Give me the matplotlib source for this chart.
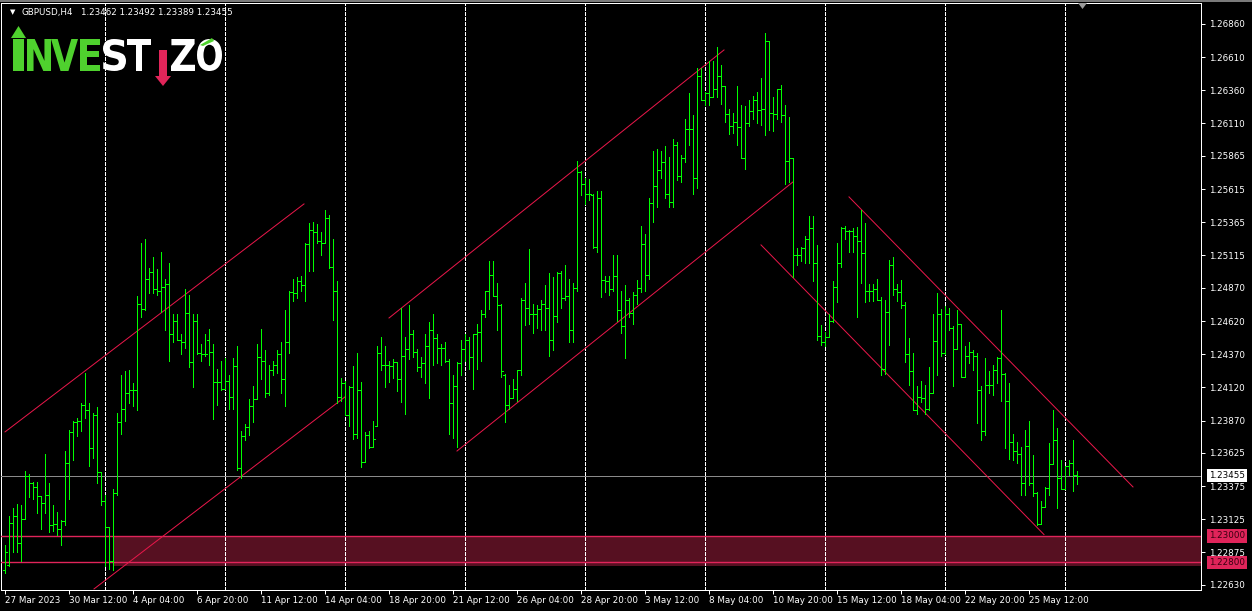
import matplotlib
matplotlib.use("Agg")
import matplotlib.pyplot as plt
from matplotlib.collections import LineCollection
from matplotlib.patches import Rectangle, Polygon, PathPatch
from matplotlib.textpath import TextPath
from matplotlib.font_manager import FontProperties
from matplotlib.transforms import Affine2D, blended_transform_factory

W, H = 1252, 611

# ---- GBPUSD H4 bars ----
opens = [
    1.2274, 1.2278, 1.2310, 1.2315, 1.2295, 1.2313, 1.2345, 1.2340, 1.2337, 1.2330,
    1.2325, 1.2331, 1.2308, 1.2309, 1.2305, 1.2311, 1.2355, 1.2378, 1.2386, 1.2387,
    1.2399, 1.2395, 1.2366, 1.2391, 1.2348, 1.2326, 1.2307, 1.2281, 1.2332, 1.2386,
    1.2396, 1.2408, 1.2410, 1.2410, 1.2475, 1.2471, 1.2494, 1.2499, 1.2486, 1.2485,
    1.2488, 1.2490, 1.2452, 1.2462, 1.2448, 1.2446, 1.2468, 1.2431, 1.2462, 1.2438,
    1.2437, 1.2448, 1.2439, 1.2416, 1.2416, 1.2411, 1.2417, 1.2405, 1.2428, 1.2351,
    1.2375, 1.2382, 1.2398, 1.2403, 1.2435, 1.2432, 1.2408, 1.2425, 1.2429, 1.2437,
    1.2418, 1.2446, 1.2484, 1.2483, 1.2492, 1.2489, 1.2520, 1.2531, 1.2529, 1.2522,
    1.2521, 1.2540, 1.2503, 1.2485, 1.2405, 1.2415, 1.2391, 1.2412, 1.2377, 1.2410,
    1.2356, 1.2376, 1.2367, 1.2383, 1.2438, 1.2429, 1.2429, 1.2428, 1.2431, 1.2418,
    1.2436, 1.2441, 1.2452, 1.2439, 1.2427, 1.2430, 1.2443, 1.2455, 1.2449, 1.2442,
    1.2442, 1.2432, 1.2400, 1.2413, 1.2430, 1.2441, 1.2448, 1.2435, 1.2452, 1.2454,
    1.2467, 1.2485, 1.2497, 1.2481, 1.2474, 1.2421, 1.2399, 1.2404, 1.2411, 1.2425,
    1.2478, 1.2472, 1.2467, 1.2467, 1.2471, 1.2475, 1.2472, 1.2448, 1.2466, 1.2498,
    1.2479, 1.2481, 1.2455, 1.2487, 1.2574, 1.2565, 1.2558, 1.2557, 1.2518, 1.2555,
    1.2493, 1.2492, 1.2486, 1.2496, 1.2470, 1.2458, 1.2478, 1.2468, 1.2482, 1.2487,
    1.2520, 1.2497, 1.2551, 1.2564, 1.2576, 1.2582, 1.2558, 1.2552, 1.2595, 1.2571,
    1.2585, 1.2607, 1.2607, 1.2570, 1.2647, 1.2629, 1.2634, 1.2631, 1.2637, 1.2647,
    1.2639, 1.2618, 1.2609, 1.2612, 1.2608, 1.2585, 1.2611, 1.2620, 1.2629, 1.2621,
    1.2622, 1.2673, 1.2619, 1.2618, 1.2637, 1.2617, 1.2583, 1.2585, 1.2512, 1.2512,
    1.2517, 1.2524, 1.2532, 1.2506, 1.2451, 1.2446, 1.2450, 1.2462, 1.2488, 1.2506,
    1.2532, 1.2530, 1.2530, 1.2526, 1.2522, 1.2513, 1.2485, 1.2485, 1.2486, 1.2478,
    1.2426, 1.2469, 1.2504, 1.2486, 1.2484, 1.2474, 1.2437, 1.2424, 1.2395, 1.2405,
    1.2404, 1.2396, 1.2408, 1.2447, 1.2467, 1.2438, 1.2467, 1.2457, 1.2441, 1.2460,
    1.2420, 1.2436, 1.2439, 1.2436, 1.2410, 1.2379, 1.2414, 1.2414, 1.2425, 1.2434,
    1.2422, 1.2402, 1.2371, 1.2364, 1.2362, 1.2340, 1.2368, 1.2340, 1.2332, 1.2309,
    1.2322, 1.2336, 1.2354, 1.2372, 1.2344, 1.2335, 1.2353, 1.2355, 1.23462,
]
highs = [
    1.2293, 1.2315, 1.2321, 1.2324, 1.2323, 1.2349, 1.2347, 1.2341, 1.2341, 1.2330,
    1.2362, 1.2340, 1.2323, 1.2318, 1.2312, 1.2364, 1.2380, 1.2387, 1.2389, 1.2400,
    1.2423, 1.2400, 1.2393, 1.2397, 1.2348, 1.2331, 1.2307, 1.2335, 1.2393, 1.2421,
    1.2424, 1.2425, 1.2415, 1.2481, 1.2521, 1.2524, 1.2502, 1.2510, 1.2501, 1.2514,
    1.2494, 1.2506, 1.2467, 1.2467, 1.2452, 1.2486, 1.2482, 1.2467, 1.2467, 1.2445,
    1.2452, 1.2456, 1.2445, 1.2426, 1.2432, 1.2434, 1.2421, 1.2434, 1.2443, 1.2379,
    1.2384, 1.2403, 1.2413, 1.2445, 1.2456, 1.2440, 1.2429, 1.2432, 1.2440, 1.2446,
    1.2470, 1.2485, 1.2494, 1.2495, 1.2496, 1.2521, 1.2536, 1.2537, 1.2535, 1.2529,
    1.2546, 1.2542, 1.2524, 1.2492, 1.2419, 1.2417, 1.2413, 1.2428, 1.2438, 1.2416,
    1.2378, 1.2379, 1.2387, 1.2443, 1.2450, 1.2443, 1.2432, 1.2433, 1.2431, 1.2472,
    1.2450, 1.2474, 1.2455, 1.2441, 1.2435, 1.2452, 1.2461, 1.2467, 1.2452, 1.2445,
    1.2446, 1.2433, 1.2421, 1.2431, 1.2448, 1.2452, 1.2450, 1.2452, 1.2460, 1.2470,
    1.2485, 1.2507, 1.2507, 1.2491, 1.2475, 1.2422, 1.2414, 1.2418, 1.2425, 1.2479,
    1.2491, 1.2516, 1.2475, 1.2474, 1.2478, 1.2489, 1.2498, 1.2495, 1.2499, 1.2500,
    1.2504, 1.2494, 1.2491, 1.2583, 1.2575, 1.2570, 1.2569, 1.2558, 1.2560, 1.2560,
    1.2496, 1.2496, 1.2512, 1.2512, 1.2485, 1.2489, 1.2479, 1.2484, 1.2493, 1.2534,
    1.2528, 1.2555, 1.2590, 1.2592, 1.2590, 1.2594, 1.2586, 1.2599, 1.2597, 1.2587,
    1.2614, 1.2634, 1.2617, 1.2653, 1.2653, 1.2635, 1.2658, 1.2658, 1.2669, 1.2655,
    1.2639, 1.2622, 1.2619, 1.2639, 1.2625, 1.2624, 1.2629, 1.2632, 1.2635, 1.2645,
    1.2679, 1.2673, 1.2631, 1.2637, 1.2640, 1.2625, 1.2616, 1.2585, 1.2517, 1.2518,
    1.2526, 1.2541, 1.2541, 1.2519, 1.2459, 1.2454, 1.2467, 1.2492, 1.2521, 1.2533,
    1.2534, 1.2531, 1.2532, 1.2533, 1.2546, 1.2536, 1.2490, 1.2490, 1.2494, 1.2480,
    1.2478, 1.2508, 1.2510, 1.2490, 1.2493, 1.2476, 1.2449, 1.2438, 1.2413, 1.2417,
    1.2414, 1.2427, 1.2467, 1.2483, 1.2471, 1.2473, 1.2472, 1.2458, 1.2470, 1.2460,
    1.2443, 1.2446, 1.2440, 1.2438, 1.2413, 1.2434, 1.2424, 1.2429, 1.2435, 1.2470,
    1.2423, 1.2415, 1.2377, 1.2371, 1.2367, 1.2380, 1.2387, 1.2361, 1.2333, 1.2326,
    1.2337, 1.2370, 1.2395, 1.2381, 1.2357, 1.2353, 1.2357, 1.2372, 1.23492,
]
lows = [
    1.2272, 1.2277, 1.2288, 1.2288, 1.2281, 1.2313, 1.2329, 1.2328, 1.2317, 1.2305,
    1.2317, 1.2303, 1.2304, 1.2301, 1.2293, 1.2308, 1.2328, 1.2357, 1.2375, 1.2379,
    1.2389, 1.2353, 1.2359, 1.2340, 1.2323, 1.2277, 1.2275, 1.2274, 1.2331, 1.2377,
    1.2387, 1.2400, 1.2398, 1.2395, 1.2465, 1.2470, 1.2483, 1.2483, 1.2482, 1.2469,
    1.2455, 1.2432, 1.2446, 1.2448, 1.2437, 1.2442, 1.2427, 1.2412, 1.2437, 1.2432,
    1.2436, 1.2429, 1.2388, 1.2399, 1.2410, 1.2411, 1.2396, 1.2396, 1.2350, 1.2344,
    1.2372, 1.2376, 1.2386, 1.2403, 1.2418, 1.2405, 1.2406, 1.2421, 1.2423, 1.2408,
    1.2398, 1.2438, 1.2477, 1.2479, 1.2485, 1.2477, 1.2500, 1.2500, 1.2521, 1.2512,
    1.2521, 1.2502, 1.2463, 1.2400, 1.2402, 1.2391, 1.2383, 1.2373, 1.2374, 1.2352,
    1.2356, 1.2366, 1.2367, 1.2383, 1.2425, 1.2412, 1.2416, 1.2419, 1.2409, 1.2401,
    1.2392, 1.2433, 1.2435, 1.2424, 1.2420, 1.2415, 1.2404, 1.2429, 1.2430, 1.2429,
    1.2431, 1.2377, 1.2374, 1.2367, 1.2421, 1.2432, 1.2426, 1.2411, 1.2426, 1.2432,
    1.2465, 1.2471, 1.2481, 1.2455, 1.2420, 1.2386, 1.2396, 1.2404, 1.2402, 1.2421,
    1.2459, 1.2460, 1.2453, 1.2457, 1.2455, 1.2455, 1.2436, 1.2440, 1.2461, 1.2472,
    1.2478, 1.2446, 1.2446, 1.2485, 1.2557, 1.2550, 1.2553, 1.2517, 1.2514, 1.2480,
    1.2484, 1.2482, 1.2485, 1.2462, 1.2453, 1.2434, 1.2465, 1.2460, 1.2475, 1.2484,
    1.2485, 1.2494, 1.2537, 1.2548, 1.2570, 1.2555, 1.2548, 1.2548, 1.2568, 1.2567,
    1.2582, 1.2595, 1.2558, 1.2562, 1.2629, 1.2625, 1.2625, 1.2631, 1.2631, 1.2626,
    1.2612, 1.2603, 1.2604, 1.2595, 1.2585, 1.2577, 1.2609, 1.2614, 1.2611, 1.2610,
    1.2602, 1.2606, 1.2605, 1.2614, 1.2612, 1.2565, 1.2567, 1.2495, 1.2504, 1.2507,
    1.2506, 1.2506, 1.2492, 1.2448, 1.2444, 1.2443, 1.2450, 1.2461, 1.2476, 1.2503,
    1.2524, 1.2514, 1.2514, 1.2465, 1.2491, 1.2476, 1.2477, 1.2477, 1.2478, 1.2421,
    1.2422, 1.2444, 1.2482, 1.2477, 1.2472, 1.2431, 1.2414, 1.2395, 1.2392, 1.2401,
    1.2392, 1.2395, 1.2408, 1.2421, 1.2436, 1.2437, 1.2455, 1.2413, 1.2441, 1.2420,
    1.2420, 1.2430, 1.2425, 1.2385, 1.2372, 1.2376, 1.2408, 1.2406, 1.2415, 1.2402,
    1.2366, 1.2358, 1.2357, 1.2355, 1.2331, 1.2331, 1.2338, 1.2330, 1.2308, 1.2309,
    1.2322, 1.2331, 1.2354, 1.2321, 1.2335, 1.2335, 1.2346, 1.2334, 1.23389,
]
closes = [
    1.2288, 1.2310, 1.2315, 1.2295, 1.2313, 1.2345, 1.2340, 1.2337, 1.2330, 1.2325,
    1.2331, 1.2308, 1.2309, 1.2305, 1.2311, 1.2355, 1.2378, 1.2386, 1.2387, 1.2399,
    1.2395, 1.2366, 1.2391, 1.2348, 1.2326, 1.2307, 1.2281, 1.2332, 1.2386, 1.2396,
    1.2408, 1.2410, 1.2410, 1.2475, 1.2471, 1.2494, 1.2499, 1.2486, 1.2485, 1.2488,
    1.2490, 1.2452, 1.2462, 1.2448, 1.2446, 1.2468, 1.2431, 1.2462, 1.2438, 1.2437,
    1.2437, 1.2439, 1.2416, 1.2416, 1.2411, 1.2417, 1.2405, 1.2428, 1.2351, 1.2375,
    1.2382, 1.2398, 1.2403, 1.2435, 1.2432, 1.2408, 1.2425, 1.2429, 1.2437, 1.2418,
    1.2446, 1.2484, 1.2483, 1.2492, 1.2489, 1.2520, 1.2531, 1.2529, 1.2522, 1.2521,
    1.2540, 1.2503, 1.2485, 1.2405, 1.2415, 1.2391, 1.2412, 1.2377, 1.2410, 1.2356,
    1.2376, 1.2367, 1.2373, 1.2438, 1.2429, 1.2429, 1.2428, 1.2431, 1.2418, 1.2436,
    1.2441, 1.2452, 1.2439, 1.2427, 1.2430, 1.2443, 1.2455, 1.2449, 1.2442, 1.2442,
    1.2432, 1.2400, 1.2413, 1.2430, 1.2441, 1.2448, 1.2435, 1.2452, 1.2454, 1.2467,
    1.2485, 1.2497, 1.2481, 1.2474, 1.2424, 1.2399, 1.2404, 1.2411, 1.2425, 1.2478,
    1.2472, 1.2467, 1.2467, 1.2471, 1.2475, 1.2472, 1.2448, 1.2466, 1.2498, 1.2479,
    1.2481, 1.2455, 1.2487, 1.2574, 1.2565, 1.2558, 1.2558, 1.2518, 1.2555, 1.2493,
    1.2492, 1.2486, 1.2496, 1.2470, 1.2458, 1.2478, 1.2468, 1.2482, 1.2487, 1.2520,
    1.2497, 1.2551, 1.2564, 1.2576, 1.2582, 1.2558, 1.2552, 1.2595, 1.2571, 1.2585,
    1.2607, 1.2607, 1.2570, 1.2647, 1.2629, 1.2634, 1.2631, 1.2637, 1.2647, 1.2639,
    1.2618, 1.2609, 1.2612, 1.2608, 1.2585, 1.2611, 1.2620, 1.2629, 1.2621, 1.2622,
    1.2673, 1.2619, 1.2618, 1.2637, 1.2617, 1.2583, 1.2585, 1.2512, 1.2512, 1.2517,
    1.2524, 1.2532, 1.2506, 1.2451, 1.2446, 1.2450, 1.2462, 1.2488, 1.2506, 1.2532,
    1.2530, 1.2530, 1.2526, 1.2522, 1.2513, 1.2485, 1.2485, 1.2486, 1.2478, 1.2426,
    1.2469, 1.2504, 1.2486, 1.2484, 1.2474, 1.2437, 1.2424, 1.2395, 1.2405, 1.2404,
    1.2396, 1.2408, 1.2447, 1.2467, 1.2438, 1.2467, 1.2457, 1.2441, 1.2460, 1.2420,
    1.2436, 1.2439, 1.2436, 1.2410, 1.2379, 1.2414, 1.2414, 1.2425, 1.2434, 1.2422,
    1.2402, 1.2371, 1.2364, 1.2362, 1.2340, 1.2368, 1.2340, 1.2332, 1.2309, 1.2322,
    1.2336, 1.2354, 1.2372, 1.2344, 1.2335, 1.2353, 1.2355, 1.2346, 1.23455,
]

# time axis labels (every 16th bar) and right price scale
time_labels = ["27 Mar 2023", "30 Mar 12:00", "4 Apr 04:00", "6 Apr 20:00", "11 Apr 12:00",
               "14 Apr 04:00", "18 Apr 20:00", "21 Apr 12:00", "26 Apr 04:00", "28 Apr 20:00",
               "3 May 12:00", "8 May 04:00", "10 May 20:00", "15 May 12:00", "18 May 04:00",
               "22 May 20:00", "25 May 12:00"]
price_ticks = [1.26860, 1.26610, 1.26360, 1.26110, 1.25865, 1.25615, 1.25365, 1.25115,
               1.24870, 1.24620, 1.24370, 1.24120, 1.23870, 1.23625, 1.23375, 1.23125,
               1.22875, 1.22630]

# drawn objects: trend channels (bar index, price) pairs
channels = [
    ((0.0, 1.23784), (74.75, 1.25503)),
    ((22.25, 1.22600), (85.0, 1.24048)),
    ((96.0, 1.24643), (179.75, 1.26664)),
    ((113.0, 1.23640), (197.0, 1.25669)),
    ((211.0, 1.25556), (282.0, 1.23369)),
    ((189.0, 1.25194), (259.75, 1.23010)),
]
zone_top, zone_bottom, zone_fill_bottom = 1.23000, 1.22800, 1.22775
zone_start = 27
last_price = 1.23455

GREEN = "#00ff00"
PX = 0.72  # one pixel in points

fig = plt.figure(figsize=(W / 100, H / 100), dpi=100, facecolor="black")
ax = fig.add_axes([1 / W, 21 / H, 1200 / W, 587 / H], facecolor="black")
ax.set_xlim(-1, 299)
ax.set_ylim(1.22592, 1.27018)

n = len(closes)
segs = []
for i in range(n):
    segs.append([(i, lows[i]), (i, highs[i])])
    segs.append([(i - 0.5, opens[i]), (i, opens[i])])
    segs.append([(i, closes[i]), (i + 0.5, closes[i])])
ax.add_collection(LineCollection(segs, colors=GREEN, linewidths=PX, antialiaseds=False, zorder=4))

# grid: dashed vertical lines every 30 bars
for g in range(25, n, 30):
    ax.axvline(g, color="white", lw=PX, ls=(0, (4, 2)), zorder=2, antialiased=False)

# support zone
ax.add_patch(Rectangle((zone_start, zone_fill_bottom), 299 - zone_start, zone_top - zone_fill_bottom,
                       facecolor="#561021", edgecolor="none", zorder=1))
ax.axhline(zone_top, color="#e0245a", lw=1.0, zorder=3)
ax.axhline(zone_bottom, color="#e0245a", lw=1.0, zorder=3)

# bid line
ax.axhline(last_price, color="#8a8a8a", lw=PX, zorder=3, antialiased=False)

for (x0, y0), (x1, y1) in channels:
    ax.plot([x0, x1], [y0, y1], color="#e8174a", lw=PX, zorder=3)

for s in ax.spines.values():
    s.set_color("white")
    s.set_linewidth(PX)

ax.set_xticks(range(0, 16 * len(time_labels), 16))
ax.set_xticklabels(time_labels, ha="left")
ax.tick_params(axis="x", colors="white", direction="out", length=3, width=PX, pad=1.5, labelsize=6.3)
ax.yaxis.tick_right()
ax.set_yticks(price_ticks)
ax.set_yticklabels([f"{p:.5f}" for p in price_ticks])
ax.tick_params(axis="y", colors="white", direction="out", length=3, width=PX, pad=3, labelsize=6.3)

tr = blended_transform_factory(ax.transAxes, ax.transData)
for val, fc, tc in [(last_price, "white", "black"), (zone_top, "#e0245a", "#3a0010"),
                    (zone_bottom, "#e0245a", "#3a0010")]:
    ax.text(1.0067, val, f"{val:.5f}", transform=tr, ha="left", va="center", fontsize=6.3,
            color=tc, clip_on=False, zorder=6,
            bbox=dict(boxstyle="square,pad=0.25", facecolor=fc, edgecolor="none"))

# pixel helper (x from left, y from top)
PXT = Affine2D().scale(1 / W, -1 / H).translate(0, 1) + fig.transFigure

# window border strip + chart shift marker
fig.patches.append(Rectangle((0, 0), W, 2, transform=PXT, facecolor="#7a7a7a", edgecolor="none"))
fig.patches.append(Polygon([(1078, 3), (1087, 3), (1082.5, 9)], closed=True, transform=PXT,
                           facecolor="#9a9a9a", edgecolor="none"))

# header
fig.text(10 / W, 1 - 12.5 / H, "\u25bc", color="white", fontsize=5, va="center")
fig.text(21 / W, 1 - 12.5 / H, "GBPUSD,H4", color="white", fontsize=6.3, va="center")
fig.text(81 / W, 1 - 12.5 / H, "1.23462 1.23492 1.23389 1.23455", color="white", fontsize=6.3,
         va="center")

# logo
fp = FontProperties(family="DejaVu Sans", weight="bold")
LG, LW, LR = "#4fd12e", "white", "#e2255a"
letters = [("I", 13, 24, LG), ("N", 27, 51, LG), ("V", 51, 78, LG), ("E", 80, 100, LG),
           ("S", 103, 126, LW), ("T", 127, 151, LW), ("Z", 171, 195, LW), ("O", 197, 222, LW)]
for ch, xl, xr, col in letters:
    tp = TextPath((0, 0), ch, size=100, prop=fp)
    bb = tp.get_extents()
    t = Affine2D().translate(-bb.x0, -bb.y0).scale((xr - xl) / bb.width, -32 / bb.height) \
        .translate(xl, 71) + PXT
    fig.patches.append(PathPatch(tp, transform=t, facecolor=col, edgecolor="none"))
# green up arrow on the first I, red down arrow as the second I, accent over O
fig.patches.append(Polygon([(11, 38), (26, 38), (18.5, 26)], closed=True, transform=PXT,
                           facecolor=LG, edgecolor="none"))
fig.patches.append(Polygon([(159, 50), (167, 50), (167, 76), (171, 76), (163, 86), (155, 76), (159, 76)],
                           closed=True, transform=PXT, facecolor=LR, edgecolor="none"))
fig.patches.append(Polygon([(200, 45), (212, 38), (214, 41), (203, 46)], closed=True, transform=PXT,
                           facecolor=LG, edgecolor="none"))

fig.savefig("out.png", dpi=100, facecolor="black")
